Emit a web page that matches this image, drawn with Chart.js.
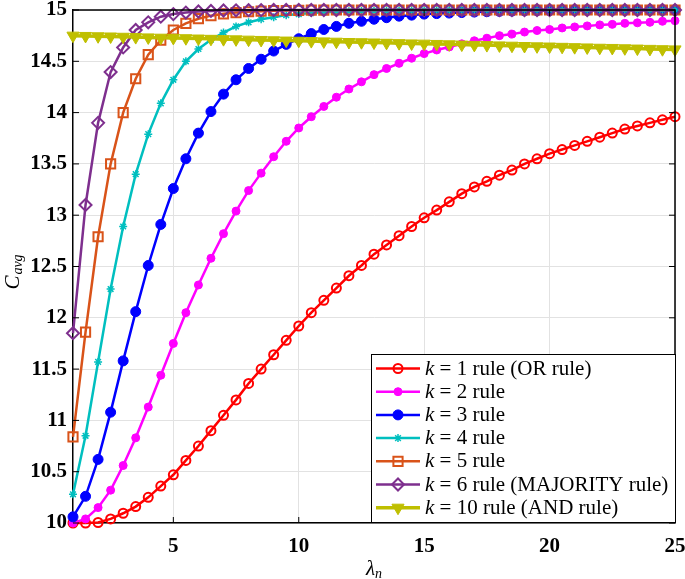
<!DOCTYPE html>
<html lang="en">
<head>
  <meta charset="UTF-8" />
  <title>C_avg over lambda_n</title>
  <script src="https://cdn.jsdelivr.net/npm/chart.js"></script>
  <style>
    html, body { margin: 0; padding: 0; background: #fff; }
    #wrap { width: 685px; height: 579px; position: relative; }
  </style>
</head>
<body>
  <div id="wrap"><canvas id="cavgChart"></canvas></div>

  <script>
    // lambda_n values (x axis)
    const lambdaN = [1, 1.5, 2, 2.5, 3, 3.5, 4, 4.5, 5, 5.5, 6, 6.5, 7, 7.5, 8, 8.5, 9, 9.5, 10, 10.5,
      11, 11.5, 12, 12.5, 13, 13.5, 14, 14.5, 15, 15.5, 16, 16.5, 17, 17.5, 18, 18.5, 19, 19.5, 20, 20.5,
      21, 21.5, 22, 22.5, 23, 23.5, 24, 24.5, 25];

    // C_avg per rule
    const k1 = [10.00, 10.00, 10.005, 10.04, 10.095, 10.16, 10.25, 10.36, 10.47, 10.61, 10.75, 10.90, 11.05, 11.20,
      11.36, 11.50, 11.64, 11.78, 11.92, 12.05, 12.17, 12.29, 12.41, 12.51, 12.62, 12.71, 12.80, 12.89, 12.975,
      13.05, 13.13, 13.21, 13.275, 13.33, 13.39, 13.44, 13.50, 13.55, 13.60, 13.64, 13.68, 13.72, 13.76, 13.80,
      13.84, 13.87, 13.90, 13.93, 13.96];
    const k2 = [10.00, 10.04, 10.15, 10.32, 10.56, 10.83, 11.13, 11.44, 11.75, 12.05, 12.32, 12.58, 12.82, 13.04,
      13.24, 13.41, 13.57, 13.72, 13.85, 13.96, 14.06, 14.15, 14.23, 14.30, 14.37, 14.43, 14.48, 14.53, 14.575,
      14.61, 14.64, 14.67, 14.70, 14.725, 14.75, 14.765, 14.785, 14.80, 14.81, 14.825, 14.835, 14.845, 14.855,
      14.86, 14.87, 14.875, 14.88, 14.89, 14.895];
    const k3 = [10.06, 10.26, 10.62, 11.08, 11.58, 12.06, 12.51, 12.91, 13.26, 13.55, 13.80, 14.01, 14.18, 14.32,
      14.43, 14.52, 14.60, 14.665, 14.72, 14.77, 14.81, 14.84, 14.87, 14.89, 14.91, 14.925, 14.94, 14.95, 14.96,
      14.965, 14.97, 14.975, 14.98, 14.984, 14.987, 14.99, 14.992, 14.994, 14.995, 14.996, 14.997, 14.998, 14.998,
      14.999, 14.999, 14.999, 15.0, 15.0, 15.0];
    const k4 = [10.28, 10.85, 11.57, 12.28, 12.89, 13.40, 13.79, 14.09, 14.32, 14.50, 14.62, 14.71, 14.78, 14.84,
      14.88, 14.91, 14.93, 14.95, 14.96, 14.97, 14.978, 14.984, 14.988, 14.991, 14.993, 14.995, 14.996, 14.997,
      14.998, 14.998, 14.999, 14.999, 15.0, 15.0, 15.0, 15.0, 15.0, 15.0, 15.0, 15.0, 15.0, 15.0, 15.0, 15.0,
      15.0, 15.0, 15.0, 15.0, 15.0];
    const k5 = [10.84, 11.86, 12.79, 13.50, 14.00, 14.33, 14.565, 14.705, 14.805, 14.87, 14.915, 14.945, 14.963,
      14.975, 14.983, 14.989, 14.993, 14.995, 14.997, 14.998, 14.999, 15.0, 15.0, 15.0, 15.0, 15.0, 15.0, 15.0,
      15.0, 15.0, 15.0, 15.0, 15.0, 15.0, 15.0, 15.0, 15.0, 15.0, 15.0, 15.0, 15.0, 15.0, 15.0, 15.0, 15.0, 15.0,
      15.0, 15.0, 15.0];
    const k6 = [11.85, 13.10, 13.90, 14.395, 14.635, 14.805, 14.88, 14.935, 14.96, 14.975, 14.985, 14.991, 14.995,
      14.997, 14.998, 14.999, 15.0, 15.0, 15.0, 15.0, 15.0, 15.0, 15.0, 15.0, 15.0, 15.0, 15.0, 15.0, 15.0, 15.0,
      15.0, 15.0, 15.0, 15.0, 15.0, 15.0, 15.0, 15.0, 15.0, 15.0, 15.0, 15.0, 15.0, 15.0, 15.0, 15.0, 15.0, 15.0,
      15.0];
    const k10 = [14.750, 14.747, 14.744, 14.742, 14.739, 14.736, 14.733, 14.730, 14.728, 14.725, 14.722, 14.719,
      14.716, 14.714, 14.711, 14.708, 14.705, 14.702, 14.700, 14.697, 14.694, 14.691, 14.688, 14.686, 14.683,
      14.680, 14.677, 14.674, 14.672, 14.669, 14.666, 14.663, 14.660, 14.658, 14.655, 14.652, 14.649, 14.646,
      14.644, 14.641, 14.638, 14.635, 14.632, 14.630, 14.627, 14.624, 14.621, 14.618, 14.616];

    const ruleLabels = [
      "k = 1 rule (OR rule)",
      "k = 2 rule",
      "k = 3 rule",
      "k = 4 rule",
      "k = 5 rule",
      "k = 6 rule (MAJORITY rule)",
      "k = 10 rule (AND rule)"
    ];
    const xTickValues = [5, 10, 15, 20, 25];

    const serif = "'Liberation Serif', 'Times New Roman', serif";

    function toPoints(ys) {
      return lambdaN.map((x, i) => ({ x: x, y: ys[i] }));
    }

    // line colour, marker style, marker size, marker fill, marker border, line width, rotation
    const looks = [
      { c: "#ff0000", ps: "circle",  r: 4.5, fill: "rgba(0,0,0,0)", bw: 2,   lw: 2.5, rot: 0 },
      { c: "#ff00ff", ps: "circle",  r: 4,   fill: "#ff00ff",       bw: 1,   lw: 2.5, rot: 0 },
      { c: "#0000ff", ps: "circle",  r: 5,   fill: "#0000ff",       bw: 1,   lw: 2.5, rot: 0 },
      { c: "#00bfbf", ps: "star",    r: 4,   fill: "rgba(0,0,0,0)", bw: 1.5, lw: 2.5, rot: 0 },
      { c: "#d95319", ps: "rect",    r: 6.5, fill: "rgba(0,0,0,0)", bw: 2,   lw: 2.5, rot: 0 },
      { c: "#7e2f8e", ps: "rectRot", r: 6,   fill: "rgba(0,0,0,0)", bw: 2,   lw: 2.5, rot: 0 },
      { c: "#bfbf00", ps: "triangle",r: 7,   fill: "#bfbf00",       bw: 1,   lw: 3.5, rot: 180 }
    ];
    const allSeries = [k1, k2, k3, k4, k5, k6, k10];

    const datasets = allSeries.map((ys, i) => ({
      label: ruleLabels[i],
      data: toPoints(ys),
      borderColor: looks[i].c,
      borderWidth: looks[i].lw,
      pointStyle: looks[i].ps,
      pointRadius: looks[i].r,
      pointHoverRadius: looks[i].r,
      pointBackgroundColor: looks[i].fill,
      pointBorderColor: looks[i].c,
      pointBorderWidth: looks[i].bw,
      pointRotation: looks[i].rot,
      tension: 0,
      clip: false,
      order: allSeries.length - 1 - i   // later rules drawn on top, like the original
    }));

    // box, inward ticks, axis titles and the legend inside the plot
    const decorPlugin = {
      id: "decor",
      afterDraw(chart) {
        const ctx = chart.ctx;
        const a = chart.chartArea;
        const xs = chart.scales.x, ys = chart.scales.y;
        ctx.save();

        // frame on top and right
        ctx.strokeStyle = "#000";
        ctx.lineWidth = 1.5;
        ctx.beginPath();
        ctx.moveTo(a.left, a.top); ctx.lineTo(a.right, a.top); ctx.lineTo(a.right, a.bottom);
        ctx.stroke();

        // inward tick marks
        ctx.lineWidth = 1;
        ctx.beginPath();
        xTickValues.forEach(v => {
          const px = xs.getPixelForValue(v);
          ctx.moveTo(px, a.bottom); ctx.lineTo(px, a.bottom - 6);
          ctx.moveTo(px, a.top); ctx.lineTo(px, a.top + 6);
        });
        ys.ticks.forEach(t => {
          const py = ys.getPixelForValue(t.value);
          ctx.moveTo(a.left, py); ctx.lineTo(a.left + 6, py);
          ctx.moveTo(a.right, py); ctx.lineTo(a.right - 6, py);
        });
        ctx.stroke();

        // x title: lambda_n
        ctx.fillStyle = "#000";
        ctx.textBaseline = "alphabetic";
        ctx.textAlign = "left";
        ctx.font = "italic 21px " + serif;
        const wl = ctx.measureText("\u03bb").width;
        ctx.font = "italic 14px " + serif;
        const wn = ctx.measureText("n").width;
        let x0 = (a.left + a.right) / 2 - (wl + wn) / 2;
        ctx.font = "italic 21px " + serif;
        ctx.fillText("\u03bb", x0, 575);
        ctx.font = "italic 14px " + serif;
        ctx.fillText("n", x0 + wl, 578);

        // y title: C_avg
        ctx.save();
        ctx.font = "italic 21px " + serif;
        const wc = ctx.measureText("C").width;
        ctx.font = "italic 14px " + serif;
        const wa = ctx.measureText("avg").width;
        const cy = (a.top + a.bottom) / 2 + 6;
        ctx.translate(19, cy + (wc + wa) / 2);
        ctx.rotate(-Math.PI / 2);
        ctx.font = "italic 21px " + serif;
        ctx.fillText("C", 0, 0);
        ctx.font = "italic 14px " + serif;
        ctx.fillText("avg", wc + 1, 3);
        ctx.restore();

        // legend box
        const lx = 371, ly = 354, lw = a.right - lx, lh = a.bottom - 1 - ly;
        ctx.fillStyle = "#fff";
        ctx.fillRect(lx, ly, lw, lh);
        ctx.strokeStyle = "#000";
        ctx.lineWidth = 1;
        ctx.strokeRect(lx + 0.5, ly + 0.5, lw, lh);

        chart.data.datasets.forEach((ds, i) => {
          const rowY = 368.5 + i * 23.2;
          ctx.strokeStyle = ds.borderColor;
          ctx.lineWidth = ds.borderWidth;
          ctx.beginPath();
          ctx.moveTo(376, rowY); ctx.lineTo(420, rowY);
          ctx.stroke();

          ctx.fillStyle = ds.pointBackgroundColor;
          ctx.strokeStyle = ds.pointBorderColor;
          ctx.lineWidth = ds.pointBorderWidth;
          Chart.helpers.drawPoint(ctx, {
            pointStyle: ds.pointStyle,
            radius: ds.pointRadius,
            rotation: ds.pointRotation,
            borderWidth: ds.pointBorderWidth
          }, 398, rowY);

          ctx.fillStyle = "#000";
          ctx.font = "italic 21px " + serif;
          ctx.fillText("k", 425, rowY + 6);
          const wk = ctx.measureText("k").width;
          ctx.font = "21px " + serif;
          ctx.fillText(ds.label.slice(1), 425 + wk, rowY + 6);
        });

        ctx.restore();
      }
    };

    const whiteBg = {
      id: "whiteBg",
      beforeDraw(chart) {
        const ctx = chart.ctx;
        ctx.save();
        ctx.fillStyle = "#fff";
        ctx.fillRect(0, 0, chart.width, chart.height);
        ctx.restore();
      }
    };

    new Chart(document.getElementById("cavgChart"), {
      type: "line",
      data: { datasets: datasets },
      options: {
        responsive: true,
        maintainAspectRatio: false,
        animation: false,
        layout: { padding: { top: 10, right: 10, left: 0, bottom: 0 } },
        plugins: {
          legend: { display: false },
          tooltip: { enabled: false }
        },
        scales: {
          x: {
            type: "linear",
            min: 1,
            max: 25,
            afterBuildTicks: (s) => { s.ticks = xTickValues.map(v => ({ value: v })); },
            afterFit: (s) => { s.height = 56; s.paddingLeft = 0; s.paddingRight = 0; },
            grid: { color: "#e2e2e2", lineWidth: 1, drawTicks: false },
            border: { display: true, color: "#000", width: 1.5 },
            ticks: {
              color: "#000",
              padding: 11,
              maxRotation: 0,
              font: { family: serif, size: 21, weight: "bold" }
            }
          },
          y: {
            min: 10,
            max: 15,
            afterFit: (s) => { s.width = 73; s.paddingTop = 0; s.paddingBottom = 0; },
            grid: { color: "#e2e2e2", lineWidth: 1, drawTicks: false },
            border: { display: true, color: "#000", width: 1.5 },
            ticks: {
              stepSize: 0.5,
              color: "#000",
              padding: 6,
              font: { family: serif, size: 21, weight: "bold" },
              callback: (v) => String(v)
            }
          }
        }
      },
      plugins: [whiteBg, decorPlugin]
    });
  </script>
</body>
</html>
